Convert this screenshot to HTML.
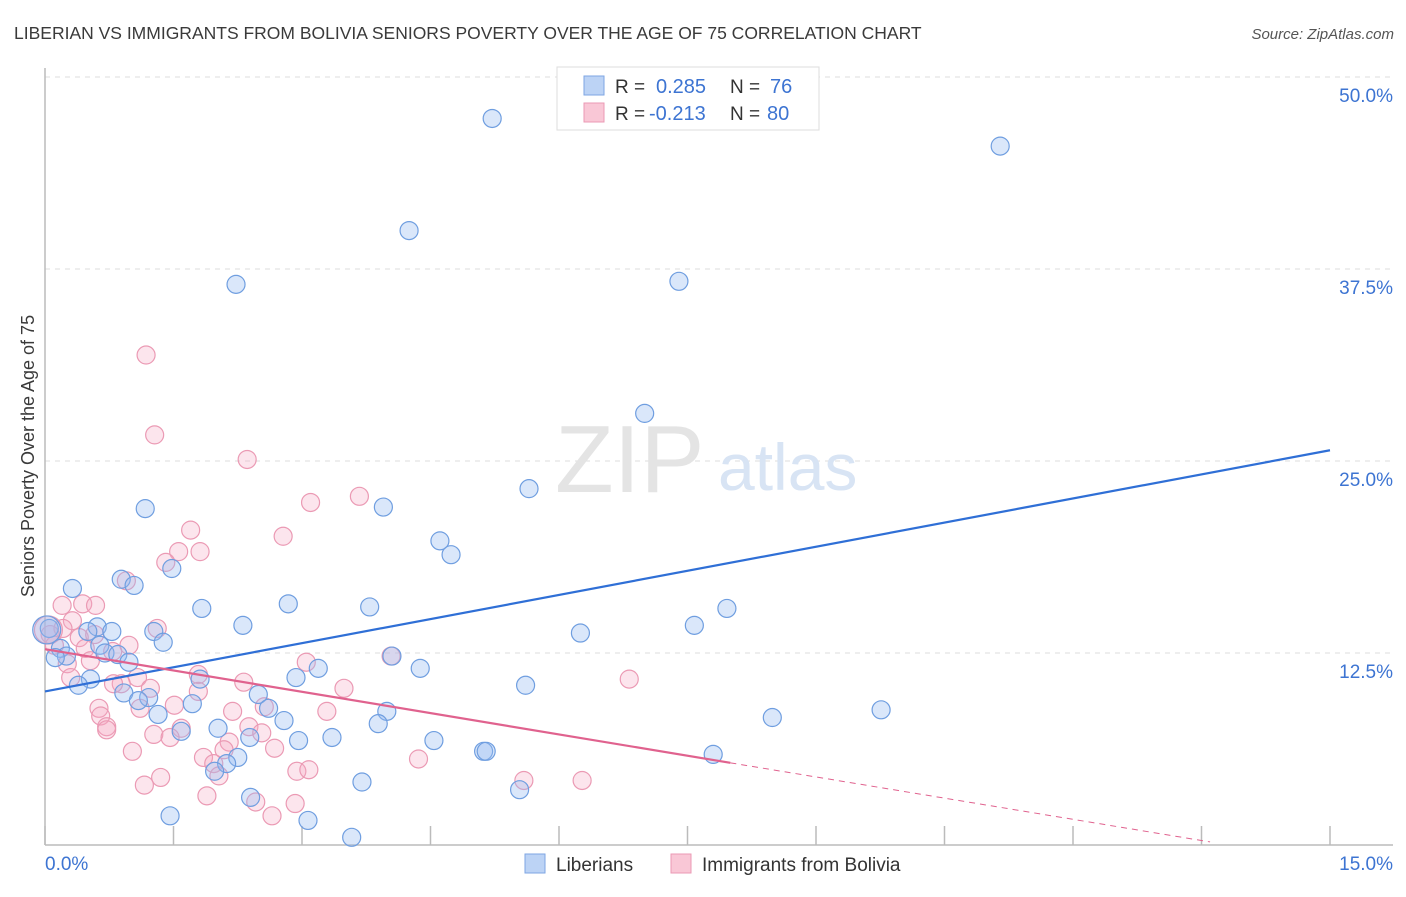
<!DOCTYPE html>
<html><head><meta charset="utf-8"><style>
body{margin:0;background:#fff;font-family:"Liberation Sans",sans-serif;}
svg text{font-family:"Liberation Sans",sans-serif;}
</style></head><body>
<svg id="chart" width="1406" height="892" xmlns="http://www.w3.org/2000/svg">
<text x="14" y="39" font-size="17.5" fill="#3a3a3a">LIBERIAN VS IMMIGRANTS FROM BOLIVIA SENIORS POVERTY OVER THE AGE OF 75 CORRELATION CHART</text>
<text x="1394" y="39" font-size="15" fill="#555" text-anchor="end" font-style="italic">Source: ZipAtlas.com</text>
<g id="grid"></g>
<text x="555" y="492" font-size="96" fill="#e4e4e4" font-family="Liberation Serif">ZIP</text>
<text x="718" y="490" font-size="66" fill="#d8e4f4">atlas</text>
<text transform="translate(34,456) rotate(-90)" font-size="18" fill="#3a3a3a" text-anchor="middle">Seniors Poverty Over the Age of 75</text>
<g id="marks"></g>
<g>
<rect x="557" y="67" width="262" height="63" fill="#fff" stroke="#ddd"/>
<rect x="584" y="76" width="20" height="19" fill="#bcd3f5" stroke="#7ea6e3"/>
<rect x="584" y="103" width="20" height="19" fill="#f9c7d6" stroke="#eb9ab4"/>
<text x="615" y="93" font-size="19" fill="#333">R = </text><text x="656" y="93" font-size="20" fill="#3d74d2">0.285</text>
<text x="730" y="93" font-size="19" fill="#333">N = </text><text x="770" y="93" font-size="20" fill="#3d74d2">76</text>
<text x="615" y="120" font-size="19" fill="#333">R = </text><text x="649" y="120" font-size="20" fill="#3d74d2">-0.213</text>
<text x="730" y="120" font-size="19" fill="#333">N = </text><text x="767" y="120" font-size="20" fill="#3d74d2">80</text>
</g>
<g>
<rect x="525" y="854" width="20" height="19" fill="#bcd3f5" stroke="#7ea6e3"/>
<text x="556" y="871" font-size="19" fill="#333">Liberians</text>
<rect x="671" y="854" width="20" height="19" fill="#f9c7d6" stroke="#eb9ab4"/>
<text x="702" y="871" font-size="19" fill="#333">Immigrants from Bolivia</text>
</g>
</svg>
<script>
const xTicks=[0,1.5,3,4.5,6,7.5,9,10.5,12,13.5,15];
const yTicks=[12.5,25,37.5,50];
const yTickLabels=["12.5%","25.0%","37.5%","50.0%"];
const blueX=[5.22,11.15,4.25,2.23,7.40,7.00,5.65,1.17,3.95,4.61,4.74,1.48,0.32,0.89,1.04,1.83,2.84,3.79,7.96,2.31,6.25,7.58,1.27,1.38,0.61,0.78,0.50,0.05,0.64,0.70,0.18,0.25,0.12,0.85,0.98,4.05,4.38,3.19,2.93,1.81,0.53,0.39,0.92,5.61,2.49,1.21,1.09,1.72,2.61,9.76,1.32,3.99,8.49,2.79,3.89,2.02,1.59,3.35,2.39,2.96,4.54,5.12,5.15,7.80,2.25,2.12,1.98,3.70,2.40,5.54,1.46,3.07,3.58,0.02];
const blueY=[47.3,45.5,40.0,36.5,36.7,28.1,23.2,21.9,22.0,19.8,18.9,18.0,16.7,17.3,16.9,15.4,15.7,15.5,15.4,14.3,13.8,14.3,13.9,13.2,14.2,13.9,13.9,14.1,13.0,12.5,12.8,12.3,12.2,12.4,11.9,12.3,11.5,11.5,10.9,10.8,10.8,10.4,9.9,10.4,9.8,9.6,9.4,9.2,8.9,8.8,8.5,8.7,8.3,8.1,7.9,7.6,7.4,7.0,7.0,6.8,6.8,6.1,6.1,5.9,5.7,5.3,4.8,4.1,3.1,3.6,1.9,1.6,0.5,14.0];
const pinkX=[1.18,1.28,2.36,3.67,3.10,1.70,2.78,1.56,1.81,1.41,0.95,0.20,0.44,0.59,0.32,0.21,1.31,0.06,0.40,0.58,0.98,0.79,0.47,0.11,3.05,4.04,0.53,0.26,1.79,1.08,2.32,6.82,0.30,0.89,1.23,3.49,0.80,1.79,2.56,1.51,1.11,3.29,2.19,0.63,0.65,2.38,1.59,0.72,0.72,1.27,2.53,1.46,2.15,2.09,2.68,1.02,1.85,4.36,1.97,2.94,3.08,2.03,1.35,5.59,6.27,1.16,1.89,2.46,2.92,2.65,0.04];
const pinkY=[31.9,26.7,25.1,22.7,22.3,20.5,20.1,19.1,19.1,18.4,17.2,15.6,15.7,15.6,14.6,14.1,14.1,13.7,13.5,13.7,13.0,12.6,12.8,13.0,11.9,12.3,12.0,11.8,11.1,10.9,10.6,10.8,10.9,10.5,10.2,10.2,10.5,10.0,9.0,9.1,8.9,8.7,8.7,8.9,8.4,7.7,7.6,7.7,7.5,7.2,7.3,7.0,6.7,6.2,6.3,6.1,5.7,5.6,5.3,4.8,4.9,4.5,4.4,4.2,4.2,3.9,3.2,2.8,2.7,1.9,14.0];
const blueTrend=[10.0,25.7];
const pinkTrend=[12.75,5.35,0.2];
const pinkTrendX=[0,8.0,13.6];
const NS="http://www.w3.org/2000/svg";
const sx=v=>45+v*(1285/15), sy=v=>845-v*15.36;
const svg=document.getElementById('chart'), grid=document.getElementById('grid'), marks=document.getElementById('marks');
function mk(t,a,p){const e=document.createElementNS(NS,t);for(const k in a)e.setAttribute(k,a[k]);(p||svg).appendChild(e);return e;}
yTicks.forEach((v,i)=>{
 const l=mk('line',{x1:45,x2:1393,y1:sy(v),y2:sy(v),stroke:'#ddd','stroke-dasharray':'5,5'},grid);
 
 
 const t=mk('text',{x:1393,y:sy(v)+25,'font-size':19,fill:'#3d74d2','text-anchor':'end'},grid);
 t.textContent=yTickLabels[i];
 
 
});
const ax=mk('line',{x1:45,x2:1393,y1:845,y2:845,stroke:'#bbb','stroke-width':1.5},grid);


const ay=mk('line',{x1:45,x2:45,y1:68,y2:845,stroke:'#bbb','stroke-width':1.5},grid);


xTicks.forEach(v=>{const l=mk('line',{x1:sx(v),x2:sx(v),y1:826,y2:845,stroke:'#bbb','stroke-width':1.5},grid);
 
 });
const x0=mk('text',{x:45,y:870,'font-size':19,fill:'#3d74d2'},grid);x0.textContent='0.0%';


const x1=mk('text',{x:1393,y:870,'font-size':19,fill:'#3d74d2','text-anchor':'end'},grid);x1.textContent='15.0%';


function dots(X,Y,fill,stroke,name){X.forEach((x,i)=>{const big=i===X.length-1;
 const c=mk('circle',{cx:sx(x),cy:sy(Y[i]),r:big?14:9,fill:fill,stroke:stroke,'stroke-width':1.2},marks);
 
 });}
dots(pinkX,pinkY,'rgba(245,170,195,0.3)','#eb9ab4','bolivia-point');
dots(blueX,blueY,'rgba(150,185,240,0.35)','#6f9ee0','liberian-point');
const bl=mk('line',{x1:sx(0),y1:sy(blueTrend[0]),x2:sx(15),y2:sy(blueTrend[1]),stroke:'#2f6fd6','stroke-width':2.2},marks);


const pl=mk('line',{x1:sx(pinkTrendX[0]),y1:sy(pinkTrend[0]),x2:sx(pinkTrendX[1]),y2:sy(pinkTrend[1]),stroke:'#e0628e','stroke-width':2.2},marks);


const pd=mk('line',{x1:sx(pinkTrendX[1]),y1:sy(pinkTrend[1]),x2:sx(pinkTrendX[2]),y2:sy(pinkTrend[2]),stroke:'#e0628e','stroke-width':1,'stroke-dasharray':'6,5'},marks);


</script>
</body></html>
